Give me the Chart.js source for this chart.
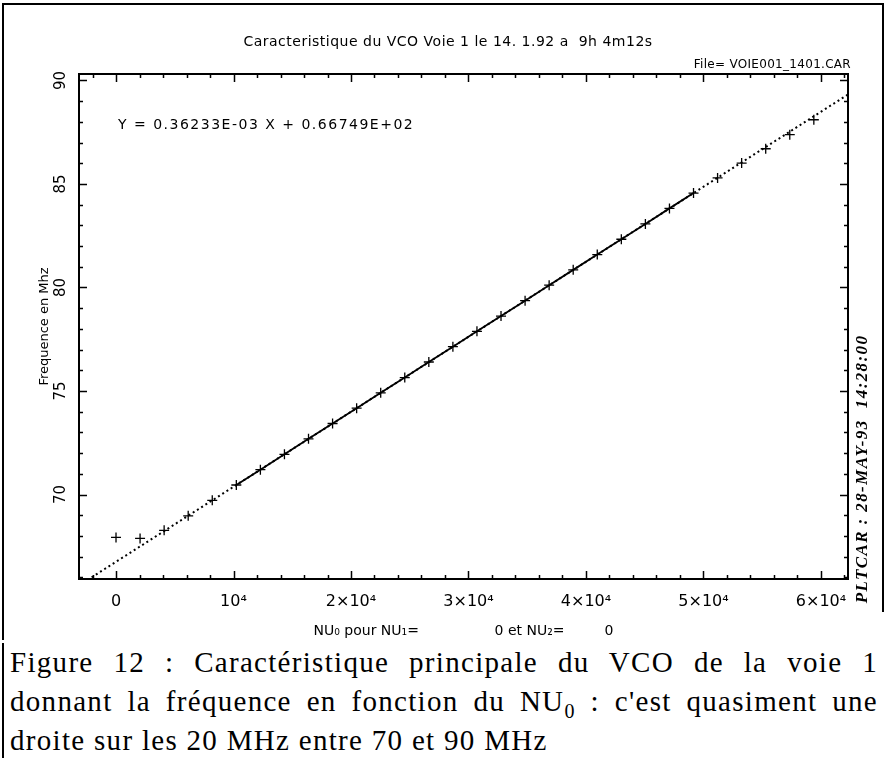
<!DOCTYPE html>
<html>
<head>
<meta charset="utf-8">
<script src="https://cdn.jsdelivr.net/npm/chart.js@4.4.0/dist/chart.umd.min.js"></script>
<style>
  html, body { margin: 0; padding: 0; background: #fff; }
  #wrap { position: relative; width: 885px; height: 758px; overflow: hidden; }
  #vco { position: absolute; left: 0; top: 0; }
  #caption {
    position: absolute; left: 2px; top: 643px; width: 868px; height: 115px;
    border-left: 2px solid #000; padding-left: 6px;
    font-family: 'Liberation Serif', serif; font-size: 29px; line-height: 39px;
    letter-spacing: 1.3px; color: #000; white-space: nowrap;
  }
  .just { text-align: justify; text-align-last: justify; }
  sub { font-size: 20px; line-height: 0; }
</style>
</head>
<body>
<div id="wrap">
  <canvas id="vco" width="885" height="640"></canvas>
  <div id="caption">
    <div class="just">Figure 12 : Caractéristique principale du VCO de la voie 1</div>
    <div class="just">donnant la fréquence en fonction du NU<sub>0</sub> : c'est quasiment une</div>
    <div>droite sur les 20 MHz entre 70 et 90 MHz</div>
  </div>
</div>
<script>
// measured points: NU0 (step 2048) and VCO frequency in MHz
const nuValues = [0, 2048, 4096, 6144, 8192, 10240, 12288, 14336, 16384, 18432,
  20480, 22528, 24576, 26624, 28672, 30720, 32768, 34816, 36864, 38912,
  40960, 43008, 45056, 47104, 49152, 51200, 53248, 55296, 57344, 59392];
const freqValues = [67.93, 67.88, 68.27, 68.97, 69.72, 70.46, 71.20, 71.94, 72.69, 73.43,
  74.17, 74.91, 75.65, 76.40, 77.14, 77.88, 78.62, 79.36, 80.11, 80.85,
  81.59, 82.33, 83.07, 83.82, 84.56, 85.29, 86.01, 86.70, 87.38, 88.10];

// points joined by the solid line (index range)
const solidFrom = 5;
const solidTo = 24;

// fitted straight line, end points
const fitNu = [-3150, 62300];
const fitFreq = [65.61, 89.32];

const xTickValues = [0, 10000, 20000, 30000, 40000, 50000, 60000];
const xTickLabels = ['0', '10⁴', '2×10⁴', '3×10⁴', '4×10⁴', '5×10⁴', '6×10⁴'];
const yTickValues = [70, 75, 80, 85, 90];
const xMinorStep = 2000;
const yMinorStep = 1;

const plotFont = '"DejaVu Sans", sans-serif';

const toPts = (xs, ys) => xs.map((v, i) => ({ x: v, y: ys[i] }));

const plotDecor = {
    id: 'plotDecor',
    afterDraw(chart) {
        const { ctx, chartArea: a, scales: { x, y } } = chart;
        ctx.save();
        ctx.strokeStyle = '#000';
        ctx.fillStyle = '#000';

        // page frame
        ctx.lineWidth = 2;
        ctx.beginPath();
        ctx.moveTo(3, 640); ctx.lineTo(3, 4); ctx.lineTo(883, 4); ctx.lineTo(883, 612);
        ctx.stroke();

        // plot box
        ctx.strokeRect(a.left, a.top, a.right - a.left, a.bottom - a.top);

        // inward ticks on all four sides
        ctx.lineWidth = 1.5;
        ctx.beginPath();
        for (let v = Math.ceil(x.min / xMinorStep) * xMinorStep; v <= x.max; v += xMinorStep) {
            const px = Math.round(x.getPixelForValue(v)) + 0.5;
            const len = v % 10000 === 0 ? 8 : 4;
            ctx.moveTo(px, a.bottom); ctx.lineTo(px, a.bottom - len);
            ctx.moveTo(px, a.top); ctx.lineTo(px, a.top + len);
        }
        for (let v = Math.ceil(y.min / yMinorStep) * yMinorStep; v <= y.max; v += yMinorStep) {
            const py = Math.round(y.getPixelForValue(v)) + 0.5;
            const len = v % 5 === 0 ? 8 : 4;
            ctx.moveTo(a.left, py); ctx.lineTo(a.left + len, py);
            ctx.moveTo(a.right, py); ctx.lineTo(a.right - len, py);
        }
        ctx.stroke();

        // header texts
        ctx.textBaseline = 'middle';
        ctx.font = '14px ' + plotFont;
        ctx.letterSpacing = '0.5px';
        ctx.textAlign = 'center';
        ctx.fillText('Caracteristique du VCO Voie 1 le 14. 1.92 a  9h 4m12s', 448, 42);
        ctx.font = '12px ' + plotFont;
        ctx.letterSpacing = '0.3px';
        ctx.textAlign = 'right';
        ctx.fillText('File= VOIE001_1401.CAR', 851, 65);

        // fit equation
        ctx.textAlign = 'left';
        ctx.font = '14px ' + plotFont;
        ctx.letterSpacing = '1.5px';
        ctx.fillText('Y = 0.36233E-03 X + 0.66749E+02', 118, 125);

        // plot stamp on the right
        ctx.translate(863, 469);
        ctx.rotate(-Math.PI / 2);
        ctx.textAlign = 'center';
        ctx.font = 'italic bold 17px "Liberation Serif", serif';
        ctx.letterSpacing = '1.4px';
        ctx.fillText('PLTCAR : 28-MAY-93  14:28:00', 0, 0);
        ctx.restore();
    }
};

new Chart(document.getElementById('vco'), {
    type: 'scatter',
    data: {
        datasets: [
            {
                data: toPts(fitNu, fitFreq),
                showLine: true,
                borderColor: '#000',
                borderWidth: 2,
                borderDash: [2, 3],
                pointRadius: 0
            },
            {
                data: toPts(nuValues.slice(solidFrom, solidTo + 1), freqValues.slice(solidFrom, solidTo + 1)),
                showLine: true,
                borderColor: '#000',
                borderWidth: 1.8,
                pointRadius: 0
            },
            {
                data: toPts(nuValues, freqValues),
                showLine: false,
                pointStyle: 'cross',
                pointRadius: 5,
                borderColor: '#000',
                borderWidth: 1.3
            }
        ]
    },
    options: {
        responsive: false,
        devicePixelRatio: 1,
        animation: false,
        events: [],
        layout: { padding: { top: 74, right: 37, left: 0, bottom: 0 } },
        plugins: {
            legend: { display: false },
            tooltip: { enabled: false }
        },
        scales: {
            x: {
                type: 'linear',
                min: -3150,
                max: 62300,
                afterBuildTicks: s => { s.ticks = xTickValues.map(v => ({ value: v })); },
                afterFit: s => { s.height = 61; },
                grid: { display: false, drawTicks: false },
                border: { display: false },
                ticks: {
                    padding: 13,
                    color: '#000',
                    maxRotation: 0,
                    font: { family: plotFont, size: 16 },
                    callback: v => xTickLabels[xTickValues.indexOf(v)]
                },
                title: {
                    display: true,
                    text: 'NU₀ pour NU₁=                 0 et NU₂=         0',
                    color: '#000',
                    font: { family: plotFont, size: 14 },
                    padding: { top: 0, bottom: 0 }
                }
            },
            y: {
                type: 'linear',
                min: 65.92,
                max: 90.31,
                afterBuildTicks: s => { s.ticks = yTickValues.map(v => ({ value: v })); },
                afterFit: s => { s.width = 79; },
                grid: { display: false, drawTicks: false },
                border: { display: false },
                ticks: {
                    minRotation: 90,
                    maxRotation: 90,
                    crossAlign: 'center',
                    padding: 8,
                    color: '#000',
                    font: { family: plotFont, size: 15 }
                },
                title: {
                    display: true,
                    text: 'Frequence en Mhz',
                    color: '#000',
                    font: { family: plotFont, size: 13 },
                    padding: { top: 37, bottom: 0 }
                }
            }
        }
    },
    plugins: [plotDecor]
});
</script>
</body>
</html>
